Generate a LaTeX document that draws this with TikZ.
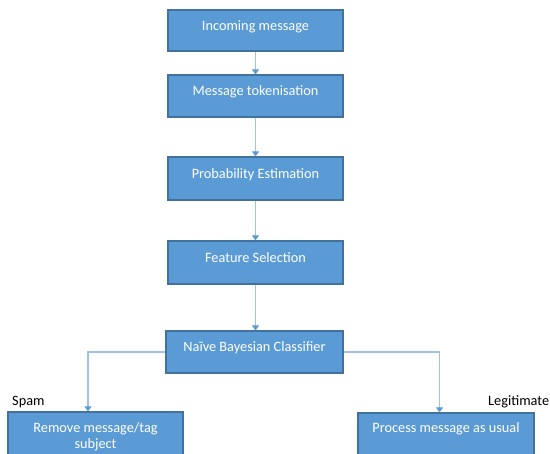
\documentclass[tikz,border=0pt]{standalone}
\usepackage{fontspec}
\setmainfont{Carlito}
\usetikzlibrary{arrows.meta}
\definecolor{stepfill}{HTML}{5B9BD5}
\definecolor{stepedge}{HTML}{41719C}
\definecolor{flowline}{HTML}{9DC3E6}
\newcommand{\boxfont}{\fontsize{14.3pt}{16pt}\selectfont}

\begin{document}
\begin{tikzpicture}[
  x=1pt,
  y=-1pt,
  every node/.style={font=\boxfont},
  stage/.style={draw=stepedge, fill=stepfill, line width=1.2pt, text=white,
    minimum width=175pt, minimum height=42pt, inner sep=0pt,
    text height=1.4ex, text depth=1.4ex, align=center},
  flow/.style={flowline, line width=1.2pt,
    -{Triangle[width=7pt, length=5pt, fill=stepfill, color=stepfill]}},
  verdict/.style={text=black, anchor=base west, inner sep=0pt}
]
  % ---- page size of the reference -------------------------------------
  \useasboundingbox (0,0) rectangle (550,454);

  % ---- the pipeline ---------------------------------------------------
  \node[stage, minimum height=41pt] (incoming) at (255.5,30.5) {Incoming message};
  \node[stage] (tokenise) at (255.5,96) {Message tokenisation};
  \node[stage, minimum height=43pt] (probest) at (255.5,178.5) {Probability Estimation};
  \node[stage, minimum height=43pt] (featsel) at (255.5,262.5) {Feature Selection};
  \node[stage, minimum width=177pt] (classifier) at (254.5,352) {Naïve Bayesian Classifier};

  % ---- the two outcomes -----------------------------------------------
  \node[stage, minimum height=50pt, text height={}, text depth={}] (remove) at (95.5,437)
    {Remove message/tag\\subject};
  \node[stage, minimum width=176pt, minimum height=45pt, text height=10pt, text depth=16pt]
    (process) at (446,435.5) {Process message as usual};

  % ---- connectors -----------------------------------------------------
  \draw[flow] (incoming) -- (tokenise);
  \draw[flow] (tokenise) -- (probest);
  \draw[flow] (probest) -- (featsel);
  \draw[flow] (featsel.south) -- (featsel.south |- classifier.north);
  \draw[flow] (classifier.west) -| ([xshift=-7.5pt]remove.north);
  \draw[flow] (classifier.east) -| ([xshift=-6.5pt]process.north);

  % ---- outcome labels -------------------------------------------------
  \node[verdict] (spam) at (12,406) {Spam};
  \node[verdict] (legit) at (488,406) {Legitimate};
\end{tikzpicture}
\end{document}
